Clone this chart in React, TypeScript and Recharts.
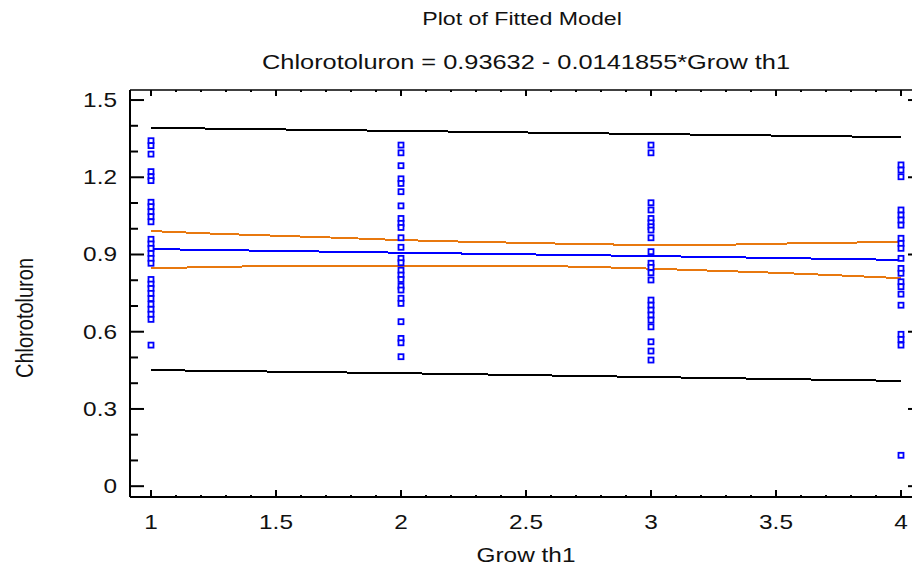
import React from 'react';
import { ComposedChart, Line, Scatter, XAxis, YAxis } from 'recharts';

// ---- data ----
const growthLevels = [1, 2, 3, 4];
const chlorAtGrowth1 = [1.342, 1.323, 1.29, 1.222, 1.202, 1.187, 1.103, 1.086, 1.066, 1.047, 1.027, 0.959, 0.941, 0.924, 0.904, 0.885, 0.866, 0.803, 0.785, 0.768, 0.749, 0.729, 0.707, 0.687, 0.668, 0.648, 0.548];
const chlorAtGrowth2 = [1.325, 1.295, 1.245, 1.194, 1.176, 1.144, 1.089, 1.04, 1.021, 1.005, 0.965, 0.928, 0.885, 0.868, 0.839, 0.82, 0.803, 0.777, 0.762, 0.73, 0.71, 0.639, 0.574, 0.557, 0.503];
const chlorAtGrowth3 = [1.325, 1.295, 1.101, 1.073, 1.04, 1.023, 1.008, 0.995, 0.965, 0.911, 0.866, 0.85, 0.829, 0.801, 0.723, 0.703, 0.684, 0.665, 0.645, 0.619, 0.561, 0.525, 0.49];
const chlorAtGrowth4 = [1.248, 1.228, 1.202, 1.073, 1.053, 1.034, 1.014, 0.963, 0.943, 0.924, 0.885, 0.846, 0.827, 0.794, 0.775, 0.746, 0.703, 0.59, 0.57, 0.548, 0.12];

const straightX = [1, 2, 3, 4];
const fittedValues = [0.921, 0.907, 0.894, 0.879];
const upperPredValues = [1.392, 1.38, 1.368, 1.356];
const lowerPredValues = [0.451, 0.439, 0.424, 0.409];

const bandX = [1, 1.25, 1.5, 1.75, 2, 2.25, 2.5, 2.75, 3, 3.25, 3.5, 3.75, 4];
const upperConfValues = [0.991, 0.981, 0.973, 0.965, 0.956, 0.95, 0.945, 0.94, 0.937, 0.937, 0.942, 0.946, 0.948];
const lowerConfValues = [0.846, 0.852, 0.855, 0.856, 0.857, 0.857, 0.856, 0.852, 0.845, 0.837, 0.829, 0.819, 0.808];

const xMajorTicks = [1, 1.5, 2, 2.5, 3, 3.5, 4];
const xTickLabels = ['1', '1.5', '2', '2.5', '3', '3.5', '4'];
const xMinorTicks = [1.1, 1.2, 1.3, 1.4, 1.6, 1.7, 1.8, 1.9, 2.1, 2.2, 2.3, 2.4, 2.6, 2.7, 2.8, 2.9, 3.1, 3.2, 3.3, 3.4, 3.6, 3.7, 3.8, 3.9];
const yMajorTicks = [0, 0.3, 0.6, 0.9, 1.2, 1.5];
const yTickLabels = ['0', '0.3', '0.6', '0.9', '1.2', '1.5'];
const yMinorTicks = [0.1, 0.2, 0.4, 0.5, 0.7, 0.8, 1.0, 1.1, 1.3, 1.4];

const titleText = 'Plot of Fitted Model';
const subtitleText = 'Chlorotoluron = 0.93632 - 0.0141855*Grow th1';
const xAxisTitle = 'Grow th1';
const yAxisTitle = 'Chlorotoluron';

// ---- derived tables ----
const columns = [chlorAtGrowth1, chlorAtGrowth2, chlorAtGrowth3, chlorAtGrowth4];
const scatterData = growthLevels.flatMap((g, i) => columns[i].map((v) => ({ x: g, y: v })));
const toXY = (xs: number[], ys: number[]) => xs.map((x, i) => ({ x, y: ys[i] }));
const fittedData = toXY(straightX, fittedValues);
const upperPredData = toXY(straightX, upperPredValues);
const lowerPredData = toXY(straightX, lowerPredValues);
const upperConfData = toXY(bandX, upperConfValues);
const lowerConfData = toXY(bandX, lowerConfValues);

const xTicksAll = [...xMajorTicks, ...xMinorTicks].sort((a, b) => a - b);
const yTicksAll = [...yMajorTicks, ...yMinorTicks].sort((a, b) => a - b);

const STRETCH = 1.22;
const FONT = "'Liberation Sans', Arial, sans-serif";

function SText({ x, y, children, anchor = 'middle', rotate = false, size = 20 }: any) {
  const t = rotate
    ? `translate(${x},${y}) scale(${STRETCH},1) rotate(-90)`
    : `translate(${x},${y}) scale(${STRETCH},1)`;
  return (
    <text x={0} y={0} transform={t} textAnchor={anchor} fontSize={size} fontFamily={FONT} fill="#111">
      {children}
    </text>
  );
}

const LeftTick = (props: any) => {
  const { x, y, payload } = props;
  const idx = yMajorTicks.indexOf(payload.value);
  const major = idx >= 0;
  return (
    <g>
      <line x1={x} y1={y} x2={x + (major ? 14 : 8)} y2={y} stroke="#000" strokeWidth={2} />
      {major && <SText x={x - 13} y={y + 7} anchor="end">{yTickLabels[idx]}</SText>}
    </g>
  );
};

const RightTick = (props: any) => {
  const { x, y, payload } = props;
  const major = yMajorTicks.indexOf(payload.value) >= 0;
  return <line x1={x} y1={y} x2={x - (major ? 14 : 8)} y2={y} stroke="#000" strokeWidth={2} />;
};

const BottomTick = (props: any) => {
  const { x, y, payload } = props;
  const idx = xMajorTicks.indexOf(payload.value);
  const major = idx >= 0;
  return (
    <g>
      <line x1={x} y1={y} x2={x} y2={y - (major ? 7 : 2)} stroke="#000" strokeWidth={2} />
      {major && <SText x={x} y={y + 32}>{xTickLabels[idx]}</SText>}
    </g>
  );
};

const TopTick = (props: any) => {
  const { x, y, payload } = props;
  const major = xMajorTicks.indexOf(payload.value) >= 0;
  return <line x1={x} y1={y} x2={x} y2={y + (major ? 6 : 2)} stroke="#000" strokeWidth={2} />;
};

const SquareDot = (props: any) => {
  const { cx, cy } = props;
  if (cx == null || cy == null) return null;
  return <rect x={cx - 2.5} y={cy - 2.5} width={5} height={5} fill="#fff" stroke="#0000ff" strokeWidth={1.8} />;
};

export default function App() {
  return (
    <div style={{ position: 'absolute', left: 0, top: 0, width: 912, height: 570, overflow: 'hidden', background: '#fff' }}>
      <ComposedChart width={930} height={570} margin={{ top: 60, right: 0, bottom: 33, left: 0 }}>
        <XAxis
          xAxisId="bottom"
          type="number"
          dataKey="x"
          orientation="bottom"
          domain={[0.916, 4.084]}
          allowDataOverflow
          ticks={xTicksAll}
          interval={0}
          height={40}
          tickSize={0}
          tickMargin={0}
          tickLine={false}
          axisLine={{ stroke: '#000', strokeWidth: 2 }}
          tick={<BottomTick />}
        />
        <XAxis
          xAxisId="top"
          type="number"
          dataKey="x"
          orientation="top"
          domain={[0.916, 4.084]}
          allowDataOverflow
          ticks={xTicksAll}
          interval={0}
          height={30}
          tickSize={0}
          tickMargin={0}
          tickLine={false}
          axisLine={{ stroke: '#000', strokeWidth: 1.5 }}
          tick={<TopTick />}
        />
        <YAxis
          yAxisId="left"
          type="number"
          orientation="left"
          domain={[-0.042, 1.539]}
          allowDataOverflow
          ticks={yTicksAll}
          interval={0}
          width={130}
          tickSize={0}
          tickMargin={0}
          tickLine={false}
          axisLine={{ stroke: '#000', strokeWidth: 2 }}
          tick={<LeftTick />}
        />
        <YAxis
          yAxisId="right"
          type="number"
          orientation="right"
          domain={[-0.042, 1.539]}
          allowDataOverflow
          ticks={yTicksAll}
          interval={0}
          width={8}
          tickSize={0}
          tickMargin={0}
          tickLine={false}
          axisLine={{ stroke: '#000', strokeWidth: 2 }}
          tick={<RightTick />}
        />
        <Line xAxisId="bottom" yAxisId="left" data={upperPredData} dataKey="y" type="linear" stroke="#000" strokeWidth={2} shapeRendering="crispEdges" dot={false} isAnimationActive={false} />
        <Line xAxisId="bottom" yAxisId="left" data={lowerPredData} dataKey="y" type="linear" stroke="#000" strokeWidth={2} shapeRendering="crispEdges" dot={false} isAnimationActive={false} />
        <Line xAxisId="bottom" yAxisId="left" data={upperConfData} dataKey="y" type="linear" stroke="#e8780f" strokeWidth={2} shapeRendering="crispEdges" dot={false} isAnimationActive={false} />
        <Line xAxisId="bottom" yAxisId="left" data={lowerConfData} dataKey="y" type="linear" stroke="#e8780f" strokeWidth={2} shapeRendering="crispEdges" dot={false} isAnimationActive={false} />
        <Line xAxisId="bottom" yAxisId="left" data={fittedData} dataKey="y" type="linear" stroke="#0000ff" strokeWidth={2} shapeRendering="crispEdges" dot={false} isAnimationActive={false} />
        <Scatter xAxisId="bottom" yAxisId="left" data={scatterData} dataKey="y" shape={<SquareDot />} isAnimationActive={false} />
      </ComposedChart>
      <svg width={912} height={570} style={{ position: 'absolute', left: 0, top: 0, pointerEvents: 'none' }}>
        <SText x={522} y={25} size={19}>{titleText}</SText>
        <SText x={526} y={69} size={20.8}>{subtitleText}</SText>
        <SText x={526} y={562}>{xAxisTitle}</SText>
        <SText x={33} y={318} rotate>{yAxisTitle}</SText>
      </svg>
    </div>
  );
}
